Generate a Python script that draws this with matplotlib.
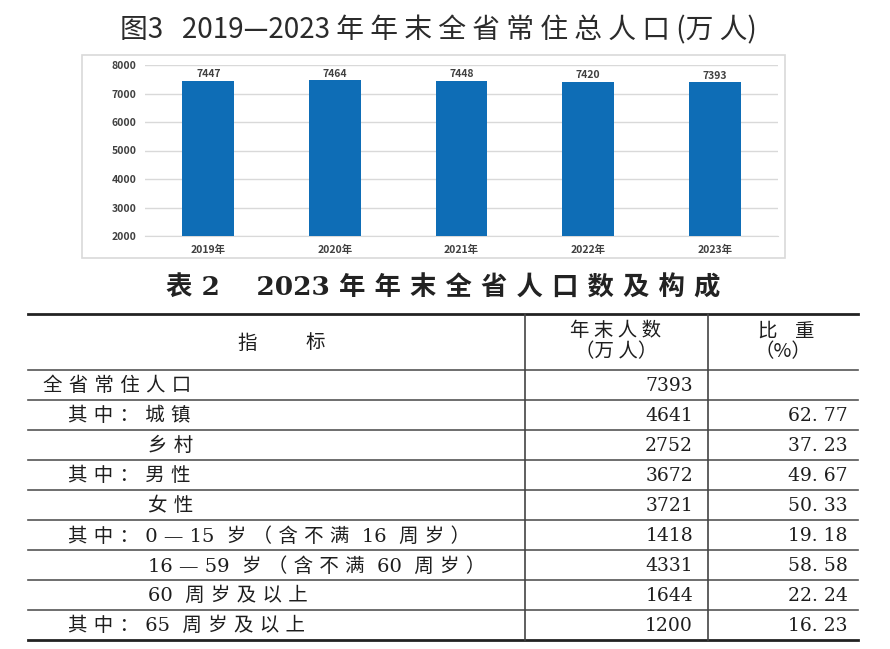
import matplotlib
matplotlib.use('Agg')
import matplotlib.pyplot as plt
from matplotlib.patches import Rectangle

plt.rcParams['font.family'] = ['Noto Sans CJK SC', 'DejaVu Sans']
plt.rcParams['axes.unicode_minus'] = False

# ---------- 数据 ----------
years = ['2019年', '2020年', '2021年', '2022年', '2023年']
population = [7447, 7464, 7448, 7420, 7393]
y_ticks = [2000, 3000, 4000, 5000, 6000, 7000, 8000]

row_labels = ['全 省 常 住 人 口', '其 中 ： 城 镇', '乡 村', '其 中 ： 男 性', '女 性',
              '其 中 ： 0 — 15  岁 （ 含 不 满  16  周 岁 ）',
              '16 — 59  岁 （ 含 不 满  60  周 岁 ）',
              '60  周 岁 及 以 上', '其 中 ： 65  周 岁 及 以 上']
row_indent = [0, 1, 2, 1, 2, 1, 2, 2, 1]
row_count = [7393, 4641, 2752, 3672, 3721, 1418, 4331, 1644, 1200]
row_share = [None, 62.77, 37.23, 49.67, 50.33, 19.18, 58.58, 22.24, 16.23]

W, H = 890, 649
fig = plt.figure(figsize=(W / 100, H / 100), dpi=100)

# 像素坐标的底层画布
bg = fig.add_axes([0, 0, 1, 1])
bg.set_xlim(0, W)
bg.set_ylim(H, 0)
bg.axis('off')

# 标题
bg.text(438, 30, '图3   2019—2023 年 年 末 全 省 常 住 总 人 口 (万 人)', fontsize=20,
        ha='center', va='center', color='#2b2b2b')

# 图表外框
bg.add_patch(Rectangle((82, 55), 703, 203, fill=False, edgecolor='#d9d9d9', lw=1.2))

# ---------- 柱状图 ----------
ax = fig.add_axes([145 / W, 1 - 236 / H, 633 / W, 171 / H])
x = range(len(years))
ax.bar(x, population, width=0.41, color='#0e6db6', zorder=3)
for xi, v in zip(x, population):
    ax.text(xi, v + 60, str(v), ha='center', va='bottom', fontsize=7.5,
            color='#404040', fontweight='bold')
ax.set_xlim(-0.5, len(years) - 0.5)
ax.set_ylim(2000, 8000)
ax.set_yticks(y_ticks)
ax.set_yticklabels([str(t) for t in y_ticks], fontsize=7.5, color='#404040', fontweight='bold')
ax.set_xticks(list(x))
ax.set_xticklabels(years, fontsize=7.5, color='#404040', fontweight='bold')
ax.grid(axis='y', color='#d9d9d9', lw=1, zorder=0)
for s in ['top', 'right', 'left']:
    ax.spines[s].set_visible(False)
ax.spines['bottom'].set_color('#d9d9d9')
ax.tick_params(length=0, pad=6)
ax.patch.set_alpha(0)

# ---------- 表格 ----------
bg.text(443, 288, '表 2    2023 年 年 末 全 省 人 口 数 及 构 成', fontsize=19, fontweight='bold',
        ha='center', va='center', color='#222222', family=['DejaVu Serif', 'Noto Sans CJK SC'])

tx0, tx1 = 28, 858
cx1, cx2 = 525, 708
top, head_bottom = 314, 370
row_h = 30
bottom = head_bottom + row_h * len(row_labels)

bg.plot([tx0, tx1], [top, top], color='#222222', lw=2)
bg.plot([tx0, tx1], [bottom, bottom], color='#222222', lw=2)
for i in range(len(row_labels)):
    yl = head_bottom + i * row_h
    bg.plot([tx0, tx1], [yl, yl], color='#555555', lw=1.2)
for cx in (cx1, cx2):
    bg.plot([cx, cx], [top, bottom], color='#444444', lw=1.2)

tfont = ['DejaVu Serif', 'Noto Sans CJK SC']
hfont = ['Noto Sans CJK SC', 'DejaVu Serif']
tcol = '#1e1e1e'
bg.text(237, 343, '指', fontsize=14, ha='left', va='center', color=tcol, family=hfont)
bg.text(305, 343, '标', fontsize=14, ha='left', va='center', color=tcol, family=hfont)
bg.text(616, 331, '年 末 人 数', fontsize=14, ha='center', va='center', color=tcol, family=hfont)
bg.text(616, 352, '（万 人）', fontsize=14, ha='center', va='center', color=tcol, family=hfont)
bg.text(786, 331, '比    重', fontsize=14, ha='center', va='center', color=tcol, family=hfont)
bg.text(783, 352, '（%）', fontsize=14, ha='center', va='center', color=tcol, family=hfont)

indent_x = {0: 43, 1: 68, 2: 148}
for i, (lab, ind, cnt, shr) in enumerate(zip(row_labels, row_indent, row_count, row_share)):
    yc = head_bottom + i * row_h + row_h / 2 + 1
    bg.text(indent_x[ind], yc, lab, fontsize=14, ha='left', va='center', color=tcol, family=tfont)
    bg.text(693, yc, str(cnt), fontsize=13.5, ha='right', va='center', color=tcol, family=tfont)
    if shr is not None:
        bg.text(848, yc, f'{shr:.2f}'.replace('.', '. '), fontsize=13.5, ha='right',
                va='center', color=tcol, family=tfont)

fig.savefig('out.png', dpi=100, facecolor='white')
